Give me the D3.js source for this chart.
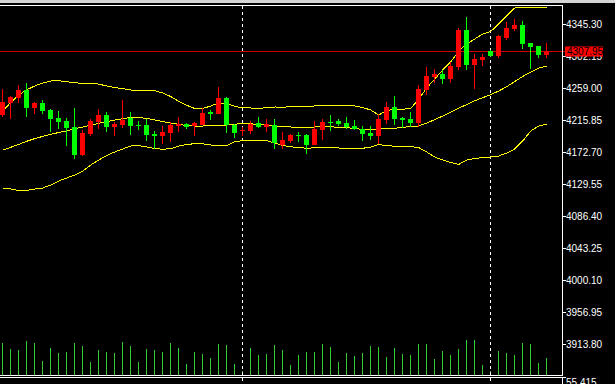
<!DOCTYPE html>
<html><head><meta charset="utf-8">
<script src="https://cdn.jsdelivr.net/npm/d3@7/dist/d3.min.js"></script>
<style>html,body{margin:0;padding:0;background:#000;overflow:hidden}</style>
</head><body>
<svg id="c" width="615" height="384"></svg>
<script>
// ---- data ----
const opens  = [4222.59,4239.18,4245.92,4256.30,4232.43,4239.18,4229.33,4218.54,4214.50,4206.00,
                4169.06,4197.37,4213.15,4222.59,4206.41,4209.10,4218.54,4209.51,4209.10,4196.97,
                4194.27,4198.32,4207.76,4210.45,4207.76,4209.10,4226.63,4223.94,4245.51,4209.10,
                4201.96,4201.01,4211.80,4206.41,4209.10,4182.14,4187.53,4195.62,4195.62,4182.14,
                4202.36,4213.15,4214.50,4211.80,4207.76,4203.71,4198.32,4194.27,4215.85,4233.38,
                4218.54,4217.20,4212.21,4256.30,4273.83,4277.88,4271.13,4287.31,4337.21,4290.01,
                4296.75,4308.89,4302.15,4326.42,4338.56,4343.95,4319.68,4315.63,4303.50];
const highs  = [4257.24,4248.61,4263.04,4265.33,4239.71,4242.82,4230.68,4227.98,4218.54,4232.03,
                4202.36,4217.20,4230.68,4226.63,4213.15,4242.82,4226.63,4214.50,4217.20,4201.01,
                4207.76,4213.15,4219.89,4211.80,4213.15,4232.03,4229.33,4260.35,4246.86,4210.45,
                4206.41,4214.50,4219.89,4217.20,4217.20,4199.66,4196.97,4199.66,4196.97,4214.50,
                4217.20,4222.59,4217.20,4219.89,4215.85,4207.76,4207.76,4223.94,4240.12,4248.21,
                4219.89,4226.63,4263.04,4287.31,4284.62,4283.27,4294.06,4339.90,4354.74,4304.84,
                4304.84,4310.24,4330.46,4347.99,4352.04,4349.34,4319.68,4315.63,4319.68];
const lows   = [4219.49,4216.79,4239.18,4220.30,4224.34,4224.34,4200.07,4203.31,4181.19,4163.67,
                4167.71,4194.68,4203.71,4200.07,4194.68,4205.46,4195.62,4202.36,4187.93,4176.34,
                4183.48,4186.18,4199.66,4203.71,4194.27,4208.70,4215.85,4223.53,4198.32,4191.58,
                4194.27,4196.97,4205.06,4199.66,4176.74,4176.74,4184.83,4186.18,4170.00,4181.73,
                4188.88,4201.01,4207.76,4203.71,4202.36,4187.53,4188.88,4183.48,4210.45,4209.10,
                4205.06,4206.41,4206.81,4249.56,4265.74,4264.39,4265.74,4283.27,4283.27,4257.65,
                4288.66,4300.80,4299.45,4323.72,4335.86,4311.59,4284.62,4299.45,4299.45];
const closes = [4240.52,4246.86,4256.30,4232.43,4239.18,4228.39,4217.60,4213.55,4205.06,4169.06,
                4198.32,4214.50,4222.59,4206.81,4210.45,4215.85,4208.16,4208.70,4195.62,4194.27,
                4199.66,4209.10,4210.45,4206.41,4211.80,4225.29,4223.94,4245.51,4209.10,4198.32,
                4202.77,4210.45,4206.41,4210.45,4184.83,4188.88,4195.62,4194.68,4182.14,4203.71,
                4213.15,4212.21,4210.45,4206.41,4203.71,4196.97,4194.27,4217.20,4233.38,4217.20,
                4215.85,4211.80,4257.65,4275.18,4277.88,4271.13,4288.66,4337.21,4290.01,4298.10,
                4300.80,4302.15,4329.12,4339.90,4343.95,4318.33,4314.28,4303.50,4307.95];
const volumes = [317,260,250,340,320,140,270,220,230,320,290,130,250,230,220,330,290,130,260,250,
                 230,320,270,110,230,210,170,310,300,110,40,270,200,210,300,250,100,200,230,230,
                 310,280,130,220,190,220,290,280,180,270,210,200,310,310,160,240,200,260,350,350,
                 100,40,240,220,200,320,310,120,170];
const bbUpper = [4227.98,4239.44,4249.56,4256.57,4261.69,4265.74,4268.44,4268.84,4267.49,4266.01,
                 4265.33,4265.33,4264.26,4261.69,4259.67,4258.05,4256.30,4256.30,4255.90,4255.36,
                 4252.26,4247.54,4241.06,4235.67,4231.35,4231.35,4234.73,4238.77,4238.10,4234.19,
                 4232.43,4232.03,4231.62,4232.30,4233.38,4233.24,4233.51,4233.78,4234.19,4234.73,
                 4235.67,4236.07,4236.07,4236.07,4234.86,4232.70,4229.33,4222.59,4228.66,4230.28,
                 4230.41,4231.35,4244.16,4259.00,4271.13,4283.27,4294.06,4308.89,4318.33,4325.07,
                 4331.81,4335.18,4345.30,4356.08,4366.87,4368.22,4368.22,4368.22,4368.22];
const bbMiddle = [4175.39,4179.03,4182.95,4187.13,4190.77,4193.73,4196.56,4198.99,4201.28,4203.98,
                  4206.41,4208.84,4211.40,4213.55,4215.85,4217.60,4219.49,4219.22,4218.01,4215.85,
                  4213.69,4211.80,4210.18,4208.30,4207.76,4207.76,4208.43,4208.70,4209.10,4210.18,
                  4210.99,4210.72,4209.91,4209.24,4207.89,4206.81,4206.41,4206.00,4206.27,4206.41,
                  4206.68,4206.54,4206.14,4205.60,4204.25,4203.31,4203.31,4203.58,4203.98,4204.66,
                  4206.00,4206.95,4207.76,4211.80,4216.25,4221.24,4226.63,4231.76,4236.75,4241.74,
                  4245.92,4249.96,4254.95,4260.75,4267.76,4274.50,4280.57,4285.97,4288.66];
const bbLower = [4123.48,4122.80,4120.78,4120.78,4122.80,4124.15,4128.20,4133.59,4137.64,4141.68,
                 4147.08,4155.17,4161.91,4167.98,4172.70,4176.74,4180.79,4181.46,4179.44,4177.42,
                 4176.47,4177.15,4180.79,4182.68,4184.02,4183.75,4182.14,4180.79,4181.46,4186.86,
                 4187.93,4187.93,4187.93,4187.93,4184.83,4181.46,4179.71,4178.63,4177.82,4178.36,
                 4179.03,4178.63,4178.09,4177.69,4177.69,4177.69,4179.44,4182.81,4181.33,4180.52,
                 4179.84,4179.84,4178.77,4172.70,4165.95,4161.91,4158.54,4155.84,4161.91,4163.93,
                 4165.28,4165.95,4167.30,4171.35,4176.74,4187.53,4201.01,4207.76,4210.45];
const priceTicks = ["4345.30","4302.15","4259.00","4215.85","4172.70","4129.55",
                    "4086.40","4043.25","4000.10","3956.95","3913.80"];
const separators = [30, 61];
const lastPrice = "4307.95";
const subPaneLabel = "55.415";

// ---- drawing ----
const W = 615, H = 384;
const svg = d3.select("#c");
const FONT = "'Liberation Sans', Arial, sans-serif";
const idx = d3.range(closes.length);

const x = d3.scaleLinear().domain([0, closes.length - 1]).range([2.7, 546.7]);
const y = d3.scaleLinear().domain([3913.80, 4345.30]).range([344, 24]);
const v = d3.scaleLinear().domain([0, 400]).range([375, 335]);
const px = i => Math.floor(x(i));

svg.append("rect").attr("width", W).attr("height", H).attr("fill", "#000");
svg.append("rect").attr("x", 0).attr("y", 0).attr("width", W).attr("height", 3).attr("fill", "#d4d4d4");

// volumes
svg.append("g").selectAll("line").data(idx).join("line")
  .attr("x1", i => px(i) + 0.5).attr("x2", i => px(i) + 0.5)
  .attr("y1", 375).attr("y2", i => v(volumes[i]))
  .attr("stroke", "#32cd32").attr("stroke-width", 1).attr("shape-rendering", "crispEdges");

// period separators
svg.append("g").selectAll("line").data(separators).join("line")
  .attr("x1", d => px(d) + 0.5).attr("x2", d => px(d) + 0.5)
  .attr("y1", 6).attr("y2", H)
  .attr("stroke", "#fff").attr("stroke-dasharray", "3,3").attr("shape-rendering", "crispEdges");

// bid line
svg.append("line").attr("x1", 0).attr("x2", 565)
  .attr("y1", Math.round(y(+lastPrice)) - 0.5).attr("y2", Math.round(y(+lastPrice)) - 0.5)
  .attr("stroke", "#d00000").attr("shape-rendering", "crispEdges");

// bollinger bands
const line = d3.line().x((d, i) => x(i)).y(d => y(d));
[bbUpper, bbMiddle, bbLower].forEach(s => {
  svg.append("path").attr("d", line(s)).attr("fill", "none")
    .attr("stroke", "#ffff00").attr("stroke-width", 1).attr("shape-rendering", "crispEdges");
});

// candles
const col = i => closes[i] >= opens[i] ? "#ff0000" : "#00ff00";
const cg = svg.append("g").attr("shape-rendering", "crispEdges");
cg.selectAll("line").data(idx).join("line")
  .attr("x1", i => px(i) + 0.5).attr("x2", i => px(i) + 0.5)
  .attr("y1", i => y(highs[i])).attr("y2", i => y(lows[i]))
  .attr("stroke", col);
cg.selectAll("rect").data(idx).join("rect")
  .attr("x", i => px(i) - 2).attr("width", 5)
  .attr("y", i => Math.min(y(opens[i]), y(closes[i])))
  .attr("height", i => Math.max(1, Math.abs(y(opens[i]) - y(closes[i]))))
  .attr("fill", col);

// frame
const fr = svg.append("g").attr("stroke", "#fff").attr("shape-rendering", "crispEdges");
fr.append("line").attr("x1", 0).attr("x2", 563).attr("y1", 5.5).attr("y2", 5.5);
fr.append("line").attr("x1", 562.5).attr("x2", 562.5).attr("y1", 5).attr("y2", 376);
fr.append("line").attr("x1", 0).attr("x2", 563).attr("y1", 375.5).attr("y2", 375.5);
fr.append("line").attr("x1", 0).attr("x2", 566).attr("y1", 377.5).attr("y2", 377.5);
fr.append("line").attr("x1", 562.5).attr("x2", 562.5).attr("y1", 377).attr("y2", H);

// price axis
const axis = d3.axisRight(y).tickValues(priceTicks.map(Number))
  .tickFormat((d, i) => priceTicks[i]).tickSize(4).tickPadding(0);
const ag = svg.append("g").attr("transform", "translate(562,0)").call(axis);
ag.select(".domain").remove();
ag.selectAll(".tick line").attr("stroke", "#fff").attr("shape-rendering", "crispEdges");
ag.selectAll(".tick text").attr("fill", "#fff").attr("font-family", FONT).attr("font-size", 10);

// current price label
const ly = y(+lastPrice);
svg.append("rect").attr("x", 565).attr("y", Math.round(ly) - 5.5).attr("width", 38).attr("height", 10)
  .attr("fill", "#ff0000");
svg.append("text").attr("x", 567).attr("y", ly + 3.8).text(lastPrice)
  .attr("fill", "#000").attr("font-family", FONT).attr("font-size", 10);

// sub pane label
svg.append("text").attr("x", 566).attr("y", 386).text(subPaneLabel)
  .attr("fill", "#fff").attr("font-family", FONT).attr("font-size", 10);
</script>
</body></html>
